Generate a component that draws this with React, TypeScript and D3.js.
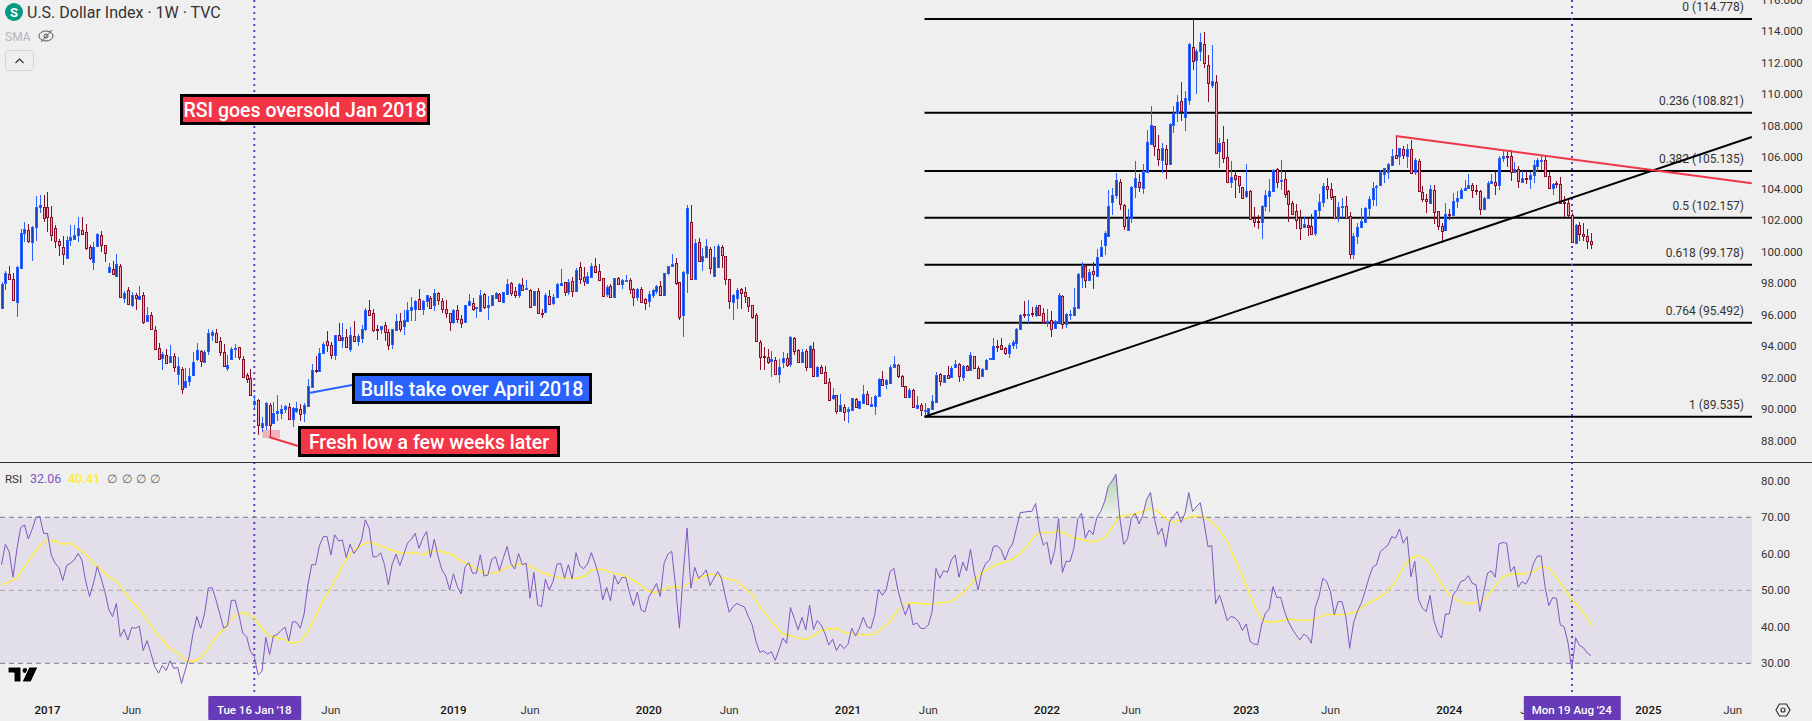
import * as d3 from 'd3';

// weekly DXY candles, first bar Oct 2016, last bar Sep 2024
const opens = [
96.41,98.0,98.57,98.25,96.83,98.95,101.21,101.36,100.6,101.6,102.84,102.86,102.82,102.19,101.49,100.66,100.28,99.58,100.77,100.83,
101.04,101.36,101.24,100.28,99.37,100.39,101.04,100.41,98.74,98.89,98.44,99.08,97.09,97.55,96.6,97.24,97.02,97.24,95.59,95.97,
95.01,93.87,93.28,93.43,93.03,93.36,92.26,92.54,91.4,91.82,92.2,93.22,93.68,92.98,93.72,94.7,94.82,94.32,93.62,92.6,
93.17,93.85,93.93,93.17,92.16,91.97,90.32,90.59,88.9,89.0,90.27,89.15,89.74,89.74,90.04,90.12,89.36,89.91,90.02,89.74,
90.21,91.44,92.48,92.46,93.6,94.32,94.09,93.47,94.7,94.4,94.57,93.85,94.64,94.36,94.55,95.12,96.29,96.09,95.12,95.1,
95.33,94.89,94.17,95.02,95.61,95.27,95.61,96.33,96.35,96.98,96.35,96.86,97.05,96.65,97.41,96.88,96.35,96.09,95.55,96.31,
95.74,95.52,96.6,96.73,96.48,96.26,97.3,96.48,96.6,97.07,97.3,96.83,97.32,98.0,97.49,97.24,97.87,97.64,97.55,96.6,
97.49,96.12,96.2,97.17,96.75,97.11,97.91,98.06,97.47,98.12,97.51,99.01,98.38,98.04,98.42,99.08,98.76,98.32,97.3,97.81,
97.15,98.32,97.94,98.17,98.19,97.62,97.11,97.62,96.98,96.86,97.28,97.53,97.81,97.28,98.63,99.12,99.27,98.06,96.01,98.63,
101.87,98.25,100.6,99.44,99.65,100.16,98.49,99.06,100.28,99.71,98.25,96.79,97.05,97.62,97.43,97.11,96.6,95.97,94.25,93.39,
93.3,93.05,93.11,92.22,92.98,93.24,92.88,94.51,93.75,92.98,93.68,92.67,93.81,92.14,92.67,92.35,91.72,90.74,90.89,89.87,
90.13,89.87,89.98,90.64,90.11,90.42,90.95,90.19,90.23,90.87,91.91,91.59,91.65,92.67,92.79,92.1,91.46,90.76,91.21,90.11,
90.25,89.92,89.73,90.04,90.45,92.22,91.72,92.16,92.03,92.67,92.86,92.03,92.73,92.48,93.37,92.6,92.12,92.54,93.18,93.22,
94.0,94.06,93.87,93.6,94.06,94.19,95.08,96.05,96.01,96.1,95.97,96.6,96.1,95.59,95.65,95.14,95.52,97.2,95.42,95.98,
95.98,96.45,98.42,99.1,98.19,98.76,98.49,99.75,100.41,101.02,103.14,103.58,104.41,102.95,101.36,102.12,104.14,104.41,104.07,105.09,
106.82,107.96,106.5,105.83,106.5,105.57,108.03,108.79,109.55,108.54,109.61,112.98,112.15,112.72,113.17,111.84,110.61,110.76,106.38,106.95,
105.99,104.45,104.85,104.79,104.09,103.56,103.84,102.15,101.93,101.87,102.93,103.52,103.84,105.24,104.52,104.6,103.84,103.08,102.57,102.15,
101.55,101.68,101.62,101.21,102.63,103.14,104.16,103.97,103.52,102.19,102.84,102.89,102.25,99.88,101.0,101.57,101.91,102.78,103.35,104.11,
104.22,104.94,105.09,105.49,106.12,106.06,106.5,106.1,106.5,105.04,105.74,103.77,103.33,103.12,103.9,102.57,101.62,101.36,102.38,102.34,
103.2,103.39,103.9,104.03,104.22,103.9,103.84,102.7,103.39,104.35,104.41,104.22,105.93,106.06,106.06,105.04,105.23,104.43,104.66,104.6,
104.88,105.43,105.81,105.81,104.79,104.03,104.35,104.28,103.14,103.08,102.32,100.54,101.68,101.11,100.98,100.67,
];
const closes = [
97.93,98.63,98.27,96.94,99.01,101.17,101.43,100.71,101.55,102.86,102.97,102.12,102.19,101.09,100.66,100.45,99.84,100.73,100.92,101.04,
101.49,101.15,100.22,99.58,100.28,101.11,100.45,99.9,99.01,98.57,99.2,97.11,97.36,96.66,97.24,97.09,97.17,95.56,95.97,95.08,
93.81,93.17,93.49,92.96,93.36,92.67,92.73,91.27,91.78,92.09,92.98,93.74,93.05,93.62,94.82,94.89,94.29,93.62,92.73,92.79,
93.81,93.89,93.3,92.03,91.9,90.89,90.51,89.0,89.11,90.42,89.0,89.78,89.89,90.0,90.21,89.36,90.08,90.08,89.7,90.27,
91.48,92.48,92.41,93.56,94.13,94.11,93.47,94.7,94.42,94.57,93.94,94.7,94.34,94.64,95.08,96.31,96.01,95.06,95.08,95.27,
94.89,94.11,95.08,95.61,95.12,95.65,96.29,96.48,96.9,96.39,96.88,97.24,96.46,97.36,96.92,96.35,96.09,95.57,96.31,95.71,
95.5,96.6,96.86,96.39,96.5,97.24,96.48,96.6,97.24,97.39,96.9,97.43,97.94,97.41,97.24,97.94,97.55,97.68,96.48,97.49,
96.14,96.07,97.24,96.71,97.13,97.94,98.0,97.43,98.06,97.51,98.85,98.3,98.17,98.44,99.08,98.72,98.23,97.22,97.74,97.15,
98.32,97.94,98.19,98.21,97.62,97.11,97.62,96.84,96.77,97.3,97.55,97.81,97.28,98.63,99.08,99.2,98.04,95.88,98.7,102.76,
98.25,100.54,99.42,99.71,100.35,98.99,99.65,100.35,99.78,98.25,96.86,97.24,97.55,97.36,97.22,96.58,95.88,94.34,93.3,93.34,
93.03,93.17,92.24,92.67,93.24,92.81,94.57,93.72,92.98,93.62,92.71,94.02,92.14,92.67,92.33,91.69,90.61,90.89,89.92,90.25,
89.85,90.0,90.7,90.13,90.51,90.95,90.34,90.32,90.83,91.91,91.57,91.84,92.67,92.86,92.1,91.46,90.76,91.21,90.17,90.25,
89.94,89.96,90.07,90.51,92.16,91.78,92.16,92.01,92.6,92.86,92.1,92.73,92.48,93.43,92.6,91.97,92.54,93.11,93.24,94.0,
93.96,93.81,93.56,94.06,94.25,95.08,95.97,96.01,96.05,96.05,96.48,95.97,95.52,95.63,95.08,95.59,97.26,95.42,96.03,96.03,
96.5,98.57,99.14,98.19,98.7,98.57,99.69,100.28,101.17,102.89,103.58,104.54,103.06,101.62,102.06,104.09,104.66,104.14,105.11,106.95,
108.03,106.7,105.87,106.57,105.55,108.09,108.79,109.49,108.96,109.74,113.17,112.09,112.72,113.3,111.96,110.69,110.84,106.25,106.88,105.93,
104.45,104.73,104.64,104.26,103.44,103.84,102.1,101.91,101.87,102.89,103.58,103.84,105.17,104.45,104.56,103.65,103.06,102.42,102.04,101.49,
101.74,101.59,101.15,102.63,103.14,104.16,103.97,103.5,102.15,102.82,102.89,102.17,99.84,100.98,101.55,101.93,102.76,103.33,104.03,104.16,
105.04,105.3,105.55,106.06,105.95,106.57,106.12,106.5,104.98,105.81,103.84,103.33,103.2,103.97,102.51,101.62,101.3,102.38,102.34,103.2,
103.39,103.9,104.03,104.22,103.9,103.86,102.7,103.39,104.35,104.47,104.22,105.93,106.06,106.04,105.04,105.23,104.47,104.66,104.6,104.85,
105.49,105.81,105.85,104.79,104.03,104.28,104.3,103.12,103.08,102.32,100.6,101.68,101.11,101.0,100.67,100.52,
];
const highs = [
98.06,98.78,99.1,98.63,99.1,101.45,101.89,101.76,101.66,103.54,103.6,103.6,103.77,102.89,101.68,100.79,101.0,101.0,101.7,101.7,
102.19,102.19,101.74,100.41,100.62,101.17,101.3,100.41,99.27,99.39,99.86,99.2,97.51,97.74,97.43,97.36,97.83,97.43,96.5,96.16,
95.29,94.21,93.66,93.83,94.08,93.55,93.32,92.67,92.6,92.62,93.62,94.21,93.77,93.77,95.08,95.01,95.08,94.57,94.13,93.43,
93.99,94.13,93.93,93.36,92.28,92.54,90.91,90.63,89.53,90.48,90.38,90.48,90.91,90.27,90.27,90.42,90.12,90.48,90.33,90.42,
91.9,92.88,93.39,93.87,94.25,94.97,94.3,94.72,95.48,95.48,95.1,95.23,95.61,94.76,95.35,96.43,96.94,96.35,95.37,95.31,
95.54,95.1,95.12,96.05,96.09,96.29,96.79,97.11,96.94,97.62,96.94,97.28,97.17,97.62,97.47,97.05,96.94,96.09,96.37,96.62,
95.99,96.6,97.32,97.07,96.52,97.6,97.36,97.22,97.28,97.47,97.41,97.45,98.25,98.08,97.75,98.04,98.34,98.21,97.64,97.51,
97.68,96.37,97.36,97.58,97.3,98.02,98.91,98.06,98.27,98.38,98.97,99.35,99.01,98.72,99.29,99.59,99.23,98.32,97.89,97.94,
98.34,98.38,98.27,98.53,98.32,97.68,97.68,97.74,97.07,97.51,97.62,97.89,98.15,98.65,99.1,99.84,99.59,98.06,98.78,102.97,
102.97,100.79,100.88,100.24,100.79,100.31,100.37,100.5,100.43,99.73,98.25,97.3,97.68,97.7,97.74,97.11,96.62,96.09,94.38,93.94,
93.81,93.68,93.3,93.17,93.62,93.55,94.68,94.59,93.81,93.83,93.81,94.09,94.28,92.77,92.82,92.73,91.97,91.33,90.93,90.95,
90.34,90.13,90.74,90.74,90.55,91.57,91.14,90.8,90.91,91.97,92.41,91.91,92.79,93.37,92.86,92.16,91.5,91.33,91.27,90.83,
90.38,90.38,90.07,90.91,92.35,92.29,92.18,92.77,92.77,93.13,92.94,92.79,92.79,93.66,93.41,92.73,92.6,93.18,93.28,94.53,
94.4,94.53,93.98,94.19,94.38,95.14,96.03,96.88,96.94,96.52,96.6,96.62,96.41,96.37,96.24,95.67,97.37,97.26,96.1,96.3,
97.68,98.63,99.33,99.22,98.91,99.33,100.18,100.75,101.34,103.9,104.05,105.0,104.6,103.01,102.7,104.16,105.76,104.94,105.57,107.73,
109.23,107.98,107.41,106.88,106.78,108.15,109.23,109.95,110.76,110.2,113.23,114.76,112.85,113.89,113.93,112.47,113.13,111.2,107.22,107.98,
107.14,105.74,105.19,104.83,104.14,105.57,103.9,102.87,102.36,102.95,103.9,104.62,105.24,105.3,105.83,105.11,103.9,103.2,103.01,102.63,
102.19,102.12,102.4,102.65,103.65,104.35,104.66,104.35,103.54,103.14,103.4,103.54,102.5,101.17,101.81,102.76,102.82,103.54,104.41,104.24,
105.17,105.34,105.62,106.53,107.35,106.57,106.7,106.82,107.1,105.93,105.87,104.18,103.65,104.22,104.24,102.59,101.81,103.08,102.72,103.71,
103.84,104.03,104.54,104.92,104.35,104.22,103.9,103.46,104.47,104.92,105.11,106.06,106.46,106.36,106.44,105.7,105.43,105.11,105.11,105.04,
105.83,105.95,106.1,106.12,105.04,104.35,104.5,104.77,103.52,103.33,102.44,101.74,101.87,101.81,101.43,101.17,
];
const lows = [
96.37,97.57,98.23,96.88,95.86,98.91,100.64,100.56,99.42,100.69,102.46,101.91,101.28,100.71,100.26,99.75,99.18,99.54,100.39,100.81,
100.64,101.13,100.13,99.5,98.87,100.33,99.99,99.35,98.65,98.53,98.42,97.09,96.75,96.62,96.5,96.3,97.0,95.44,95.54,95.06,
93.79,93.13,92.5,92.88,93.0,92.37,91.54,90.97,91.35,91.48,92.18,93.07,92.69,92.96,93.45,94.34,94.23,93.38,92.67,92.43,
93.13,93.24,93.15,92.01,91.67,90.85,90.1,88.37,88.58,88.68,88.2,89.11,89.28,89.42,89.74,89.32,88.9,89.74,89.28,89.21,
90.17,91.42,92.29,92.43,93.56,93.64,93.17,93.15,94.36,93.87,93.89,93.64,94.3,94.04,94.21,94.99,95.97,94.93,94.4,94.78,
94.34,93.79,93.81,94.97,94.93,94.74,95.57,95.63,95.59,96.35,96.01,96.48,96.39,96.22,96.62,96.14,95.8,94.99,95.44,95.46,
95.14,95.5,96.56,96.24,95.82,96.24,96.39,95.69,96.56,97.05,96.83,96.79,97.26,97.17,97.09,97.05,97.53,97.62,96.43,96.56,
96.09,95.8,96.18,96.67,96.62,97.09,97.85,97.2,97.26,97.15,97.47,97.96,97.83,97.96,98.38,98.63,98.15,97.13,97.13,97.07,
97.15,97.89,97.66,98.15,97.34,96.58,96.9,96.79,96.31,96.5,97.09,97.3,97.26,97.26,98.53,99.1,97.89,95.69,94.61,97.41,
98.21,98.21,99.35,98.78,99.61,98.59,98.46,99.04,98.99,97.89,96.37,95.67,96.37,96.37,96.75,96.18,95.76,94.27,92.5,92.5,
92.88,92.05,92.18,91.69,92.62,92.69,92.69,93.45,92.94,92.94,92.43,92.65,92.1,92.05,92.29,91.67,90.59,90.59,89.7,89.83,
89.26,89.16,89.92,90.06,90.04,90.4,90.26,90.13,89.64,90.83,91.53,91.27,91.61,92.6,92.01,91.4,90.72,90.7,90.13,90.04,
89.58,89.64,89.71,90.04,90.4,91.48,91.65,91.95,91.99,92.62,91.76,91.82,92.46,92.46,92.56,91.91,92.08,92.5,93.13,93.18,
93.66,93.77,93.47,93.26,93.81,93.81,95.02,95.78,95.46,95.84,95.88,95.95,95.46,95.25,94.61,95.1,95.46,95.1,95.14,95.67,
95.95,96.41,97.68,97.68,98.17,97.64,98.46,99.71,99.8,100.98,102.34,103.35,102.65,101.38,101.32,101.81,103.41,103.77,103.67,105.04,
106.78,106.08,105.43,105.02,104.64,105.55,107.54,108.24,108.3,107.69,109.32,111.54,110.02,112.11,111.67,109.51,110.4,106.23,105.34,105.66,
104.43,104.05,103.41,103.75,103.37,103.41,102.02,101.55,101.47,100.83,102.57,102.55,103.77,104.03,103.92,103.44,101.91,102.38,101.43,100.77,
101.51,101.0,101.09,101.0,102.19,102.87,103.37,103.31,102.06,101.91,102.17,102.15,99.57,99.57,100.5,101.53,101.87,102.17,102.91,102.91,
104.18,104.35,104.62,105.45,105.89,105.51,105.87,105.34,104.94,104.88,103.8,103.18,102.46,103.08,101.79,101.38,100.54,101.32,102.04,102.27,
102.76,103.35,103.88,103.99,103.44,103.58,102.34,102.65,103.35,104.3,103.58,103.9,105.68,105.4,104.52,104.98,104.07,104.39,104.28,103.99,
104.35,105.09,105.19,104.75,103.99,103.61,104.03,103.08,102.19,102.19,100.54,100.5,100.67,100.71,100.18,100.18,
];

const rsi = [
57,62.6,60.6,53.6,61.1,67.2,67.9,64.1,66.7,70,70.2,65.6,65.6,59.7,57.4,56.2,52.7,56.8,57.4,58.3,
60.1,58.3,52.4,48.3,51.9,56.5,53.3,49.6,44.8,42.8,46.4,37.3,39.3,36.4,39.8,39.6,40.2,33.5,36.2,32.8,
29.1,27.3,29.4,28,30.7,28.6,28.9,24.5,28.2,31.8,38.2,42.8,39.6,43.5,50.6,50.7,47.4,43.5,39.6,40.3,
47.2,47.3,43.2,38.2,37.3,33.3,31.8,26.8,27.8,37.1,32.4,37.5,37.9,39,39.9,36.1,41.4,41.3,39.6,43.5,
51.5,57,57,62.2,64.7,64.7,59.7,65.2,63.5,63.8,59,62.6,60.1,61.5,63.8,69.3,67,59.2,59.2,60.3,
57,51.5,57.2,59.9,56.8,59.7,62.9,64,65.6,61.5,64.3,66.1,59,64,59.2,55.6,53.9,50.1,54.5,51,
49,56.3,57.6,54.7,54.7,59.7,53.9,54.2,58.5,59.2,55.4,58.8,62,57.4,55.8,60.1,57,57.4,47.8,54.9,
46,45.5,53,50.1,52.4,57.1,57.4,53.3,57,53.1,60.3,56.7,55.9,57.2,60.3,57.4,53.7,47.4,50.8,47.1,
54.2,51.7,
53.5,53.5,49.2,45.8,49.5,44.6,44.1,48.1,49.9,51.9,48.3,57.4,59.9,60.7,51,39.6,54.7,67,50.6,56.3,
53.3,54.2,55.6,51.3,53.3,55.1,53.3,48.3,44,45.5,46.4,45.9,45.4,42.8,40.5,36,33,33.4,32.5,33.2,
30.8,33.7,36.9,35.5,45.3,42.3,39.2,42.6,39.2,45.9,39.3,41.7,40.5,38.2,35,36.6,33.5,35.3,34,35.2,
39.6,37.5,39.6,42.6,40,39.6,43.3,50.3,48.6,50.1,55.1,56,50.3,46.4,43.2,46.2,40.5,41.1,39.6,39.5,
40.5,44.2,56,53.3,55.4,54.9,58.3,59.7,53.6,57.7,55.3,61.2,54.7,50.1,55.1,57.4,58.3,62,62.2,61.1,
58.3,61.1,62.7,67,71.3,71.4,71.6,71.6,73.8,66.5,62.4,63.2,57.1,60.9,69.7,54.9,58,57.9,61.5,69.5,
71.1,64.3,66.5,65.3,70,71.6,74.3,78.6,80,81.8,69.7,62.6,64.1,69.7,71.1,68.2,70.6,74.9,76.8,69.7,
65.2,67,62,68.8,70.2,71.6,68.6,71.1,76.8,71.6,72.9,74,68.4,62,62.2,46.3,48.7,
45.5,41.7,42.8,42.5,41.4,39,40.8,36,35.3,35.1,40.5,43.7,44.9,51,48,48.1,44.2,41.4,39.4,37.8,
36.4,38,37.3,35.5,45.3,48.3,53.3,52.4,49.6,43.3,46.9,46.9,42.8,34.1,41,44.2,46.4,49.6,53.3,56.3,
57,60.6,61.5,62.4,64.7,64.3,66.8,62.9,64.7,53.7,58,47.4,45.1,44.2,48.6,41.7,38.5,36.9,43.5,43.5,
48.7,50.1,52.4,52.8,54,51.9,51.5,44.2,49.6,54.7,55.3,53.6,62.7,63.1,62.9,55.1,56.5,50.8,52.4,51.7,
53.7,57.4,59.4,59.4,51,45.8,48,47.8,40.5,40,35.7,28.4,37,34.9,34.3,32.9,32.06,
];
// RSI moving average, read every second week (last value is the final bar)
const rsiMa = [
51.5,52.4,53.3,56.5,59.4,62.2,63.8,63.5,62.6,62.9,61.5,59.9,57.4,55.8,53.7,52.7,49.6,46.9,44.8,41.9,
38.7,36.4,34.1,32.8,30.9,30.5,31.4,34.1,37.3,39.2,42.3,43.7,43.7,42.3,39.6,37.5,37,36.4,35.5,36,
38.7,42.8,47.4,50.6,54.7,58.3,61.1,62.4,63.3,62.6,61.8,60.9,60.3,60.3,60.4,59.7,60.6,60.9,60.3,59.7,
58,57.2,55.8,54.7,54.7,55.1,56.3,57,57.2,56.7,55.4,54.5,53.9,53.5,53.2,53.3,53.7,55.6,55.9,55.4,54.5,
54.3,53.3,52.2,50.3,49.4,49.6,50.7,51,50.8,52.4,53.3,54.1,54.5,53.7,53,52.6,50.7,48.9,45.5,42.8,
40.2,38,37.5,36.9,36.6,37.6,39,39.4,39.6,38.5,38.1,37.9,37.8,38,39.6,41.4,44.6,46.3,46.6,46.4,
46.2,46.4,46.7,46.9,48.5,50.1,52.8,54.9,56,57.2,57.8,58.5,60.1,62.4,65.2,66,65.6,66.4,65.4,64.3,
64,63.3,63.5,64.4,67.2,70.2,70.6,70.9,71.6,72.5,71.6,69.5,68.6,69.3,70,70.4,70.2,68.8,
66.5,63.5,58.6,54,48.7,43.7,41.3,41.3,41.6,42.1,41.9,41.7,41.9,42.6,43.4,43.3,43.4,43.7,44.3,46,
47.2,48.1,49.9,52.4,56.3,58.8,59.5,58.3,55.6,51.6,48.7,47.4,46.4,46.4,46.9,48.3,51.2,53.7,54.4,54.6,
54.5,55.1,56.5,56,53.6,50.6,47.4,45.3,42.3,40.41,
];

const fibLevels = [0, 0.236, 0.382, 0.5, 0.618, 0.764, 1];
const fibPrices = [114.778, 108.821, 105.135, 102.157, 99.178, 95.492, 89.535];
const priceTicks = [116, 114, 112, 110, 108, 106, 104, 102, 100, 98, 96, 94, 92, 90, 88];
const rsiTicks = [80, 70, 60, 50, 40, 30];
const timeWeeks = [12, 34, 86, 118, 138, 169, 190, 221, 242, 273, 295, 325, 347, 378, 399, 430, 452];
const timeLabels = ['2017', 'Jun', 'Jun', '2019', 'Jun', '2020', 'Jun', '2021', 'Jun', '2022', 'Jun', '2023', 'Jun', '2024', 'Jun', '2025', 'Jun'];
// week index / price of the drawn trendlines
const blackTrend = [[241, 89.535], [457, 107.29]];
const redTrend = [[364, 107.35], [457, 104.35]];
const markerWeeks = [66, 410];
const markerLabels = ["Tue 16 Jan '18", "Mon 19 Aug '24"];

const WIDTH = 1812;
const HEIGHT = 721;
const PANE_RIGHT = 1752;
const FONT = 'Roboto, sans-serif';

const x = d3.scaleLinear().domain([0, 415]).range([1.5, 1590.95]);
const yPrice = d3.scaleLinear().domain([89.535, 114.778]).range([416.7, 19]);
const yRsi = d3.scaleLinear().domain([30, 70]).range([663.3, 517.3]);

const UP_BORDER = '#2962ff';
const UP_FILL = '#1a3fb0';
const DOWN_BORDER = '#880e2a';
const DOWN_FILL = '#f0a3aa';

const rsiLine = d3.line<number>().x((_, i) => x(i)).y((d) => yRsi(d));
const rsiFill = d3.area<number>().x((_, i) => x(i)).y0(yRsi(70)).y1((d) => yRsi(d));
const maLine = d3.line<number>().x((_, i) => x(Math.min(i * 2, 415))).y((d) => yRsi(d));

function Candles() {
  return (
    <g shapeRendering="crispEdges">
      {opens.map((o, i) => {
        const c = closes[i];
        const up = c >= o;
        const cx = Math.round(x(i));
        const top = Math.round(yPrice(Math.max(o, c)));
        const bot = Math.round(yPrice(Math.min(o, c)));
        return (
          <g key={i}>
            <line x1={cx + 0.5} x2={cx + 0.5} y1={yPrice(highs[i])} y2={yPrice(lows[i])} stroke={up ? UP_BORDER : DOWN_BORDER} />
            <rect x={cx - 0.5} y={top + 0.5} width={2} height={Math.max(bot - top, 1)} fill={up ? UP_FILL : DOWN_FILL} stroke={up ? UP_BORDER : DOWN_BORDER} />
          </g>
        );
      })}
    </g>
  );
}

function Callout({ x0, y0, w, h, fill, text }: { x0: number; y0: number; w: number; h: number; fill: string; text: string }) {
  return (
    <g>
      <rect x={x0 + 1.5} y={y0 + 1.5} width={w - 3} height={h - 3} fill={fill} stroke="#000" strokeWidth={3} />
      <text x={x0 + w / 2} y={y0 + h / 2 + 7} textAnchor="middle" fill="#fff" fontSize={19.5} fontWeight={500} style={{ fontFamily: FONT }}>
        {text}
      </text>
    </g>
  );
}

export default function App() {
  return (
    <svg width={WIDTH} height={HEIGHT} viewBox={`0 0 ${WIDTH} ${HEIGHT}`} style={{ position: 'absolute', left: 0, top: 0, display: 'block', fontFamily: FONT }}>
      <defs>
        <linearGradient id="obFill" gradientUnits="userSpaceOnUse" x1={0} x2={0} y1={yRsi(82)} y2={yRsi(70)}>
          <stop offset="0" stopColor="#4caf50" stopOpacity={0.4} />
          <stop offset="1" stopColor="#4caf50" stopOpacity={0} />
        </linearGradient>
        <clipPath id="aboveOb">
          <rect x={0} y={460} width={PANE_RIGHT} height={yRsi(70) - 460} />
        </clipPath>
        <clipPath id="pricePane">
          <rect x={0} y={0} width={PANE_RIGHT} height={462} />
        </clipPath>
      </defs>
      <rect width={WIDTH} height={HEIGHT} fill="#efefef" />

      {/* fib levels */}
      {fibPrices.map((p, i) => (
        <g key={p}>
          <line x1={x(241)} x2={PANE_RIGHT} y1={yPrice(p)} y2={yPrice(p)} stroke="#000" strokeWidth={2} />
          <text x={1744} y={yPrice(p) - 8} textAnchor="end" fontSize={12} fill="#333">
            {`${fibLevels[i]} (${p.toFixed(3)})`}
          </text>
        </g>
      ))}

      <line x1={254.3} x2={254.3} y1={0} y2={696} stroke="#673ab7" strokeWidth={2} strokeDasharray="2 4" />
      <line x1={1572} x2={1572} y1={0} y2={696} stroke="#673ab7" strokeWidth={2} strokeDasharray="2 4" />

      <Candles />

      {/* trendlines */}
      <g clipPath="url(#pricePane)">
        <line x1={x(blackTrend[0][0])} y1={yPrice(blackTrend[0][1])} x2={x(blackTrend[1][0])} y2={yPrice(blackTrend[1][1])} stroke="#000" strokeWidth={2} />
        <line x1={x(redTrend[0][0])} y1={yPrice(redTrend[0][1])} x2={x(redTrend[1][0])} y2={yPrice(redTrend[1][1])} stroke="#f23645" strokeWidth={2} />
      </g>

      {/* callouts */}
      <rect x={262.5} y={430} width={17.5} height={8} fill="#f23645" fillOpacity={0.32} />
      <line x1={269} y1={437} x2={298} y2={446} stroke="#f23645" strokeWidth={2} />
      <line x1={309} y1={393} x2={352} y2={385} stroke="#2962ff" strokeWidth={2} />
      <Callout x0={180} y0={94} w={250} h={31} fill="#f23645" text="RSI goes oversold Jan 2018" />
      <Callout x0={352} y0={373} w={240} h={31} fill="#2962ff" text="Bulls take over April 2018" />
      <Callout x0={298} y0={426} w={262} h={31} fill="#f23645" text="Fresh low a few weeks later" />

      {/* price axis */}
      {priceTicks.map((t) => (
        <text key={t} x={1761} y={yPrice(t) + 4} fontSize={11.5} fill="#333">
          {t.toFixed(3)}
        </text>
      ))}

      <line x1={0} x2={WIDTH} y1={462.5} y2={462.5} stroke="#2a2e39" strokeWidth={1.2} />

      {/* RSI pane */}
      <rect x={0} y={yRsi(70)} width={PANE_RIGHT} height={yRsi(30) - yRsi(70)} fill="#7e57c2" fillOpacity={0.1} />
      <line x1={0} x2={PANE_RIGHT} y1={yRsi(70)} y2={yRsi(70)} stroke="#787b86" strokeDasharray="5 4" />
      <line x1={0} x2={PANE_RIGHT} y1={yRsi(50)} y2={yRsi(50)} stroke="#787b86" strokeOpacity={0.6} strokeDasharray="5 4" />
      <line x1={0} x2={PANE_RIGHT} y1={yRsi(30)} y2={yRsi(30)} stroke="#787b86" strokeDasharray="5 4" />
      <path d={rsiFill(rsi) ?? ''} fill="url(#obFill)" clipPath="url(#aboveOb)" />
      <path d={maLine(rsiMa) ?? ''} fill="none" stroke="#ffeb3b" strokeWidth={1.4} />
      <path d={rsiLine(rsi) ?? ''} fill="none" stroke="#7e57c2" strokeWidth={1} />
      {rsiTicks.map((t) => (
        <text key={t} x={1761} y={yRsi(t) + 4} fontSize={11.5} fill="#333">
          {t.toFixed(2)}
        </text>
      ))}

      {/* RSI legend */}
      <text x={5} y={483} fontSize={11.5} fill="#333">RSI</text>
      <text x={30} y={483} fontSize={12.5} fill="#7e57c2">32.06</text>
      <text x={68} y={483} fontSize={12.5} fontWeight={500} fill="#ffeb3b">40.41</text>
      {[107, 122, 136, 150].map((lx) => (
        <text key={lx} x={lx} y={483} fontSize={11.5} fill="#666">∅</text>
      ))}

      {/* time axis */}
      {timeWeeks.map((w, i) => (
        <text key={w} x={x(w)} y={714} textAnchor="middle" fontSize={11.5} fontWeight={timeLabels[i] === 'Jun' ? 400 : 500} fill={timeLabels[i] === 'Jun' ? '#333' : '#111'}>
          {timeLabels[i]}
        </text>
      ))}
      {markerWeeks.map((w, i) => (
        <g key={w}>
          <rect x={x(w) - (i ? 48 : 46)} y={696} width={i ? 97 : 93} height={24} rx={1} fill="#673ab7" />
          <text x={x(w)} y={714} textAnchor="middle" fontSize={11.5} fontWeight={500} fill="#fff">
            {markerLabels[i]}
          </text>
        </g>
      ))}

      {/* settings glyph */}
      <path d="M1776,710 L1779.5,704 L1786.5,704 L1790,710 L1786.5,716 L1779.5,716 Z" fill="none" stroke="#333" strokeWidth={1.2} />
      <circle cx={1783} cy={710} r={2} fill="none" stroke="#333" strokeWidth={1.2} />

      {/* TradingView mark */}
      <g stroke="#fff" strokeWidth={1} fill="#000">
        <path d="M8,667 H21 V682 H14 V673 H8 Z" />
        <circle cx={25} cy={670.5} r={3} />
        <path d="M29,667 H38 L31,682 H22 Z" />
      </g>

      {/* header */}
      <circle cx={14} cy={12} r={9} fill="#089981" />
      <text x={14} y={16.5} textAnchor="middle" fontSize={13} fontWeight={700} fill="#fff">S</text>
      <text x={27} y={18} fontSize={16} fill="#333">U.S. Dollar Index · 1W · TVC</text>
      <text x={5} y={41} fontSize={12} fill="#b2b5be">SMA</text>
      <g fill="none" stroke="#555" strokeWidth={1}>
        <ellipse cx={46} cy={36} rx={7} ry={5} />
        <circle cx={46} cy={36} r={2} />
        <line x1={41} y1={42} x2={52} y2={30} />
      </g>
      <rect x={5.5} y={50.5} width={28} height={20} rx={3} fill="none" stroke="#d1d4dc" />
      <path d="M15.5,63 L19.5,59 L23.5,63" fill="none" stroke="#333" strokeWidth={1.2} />
    </svg>
  );
}
